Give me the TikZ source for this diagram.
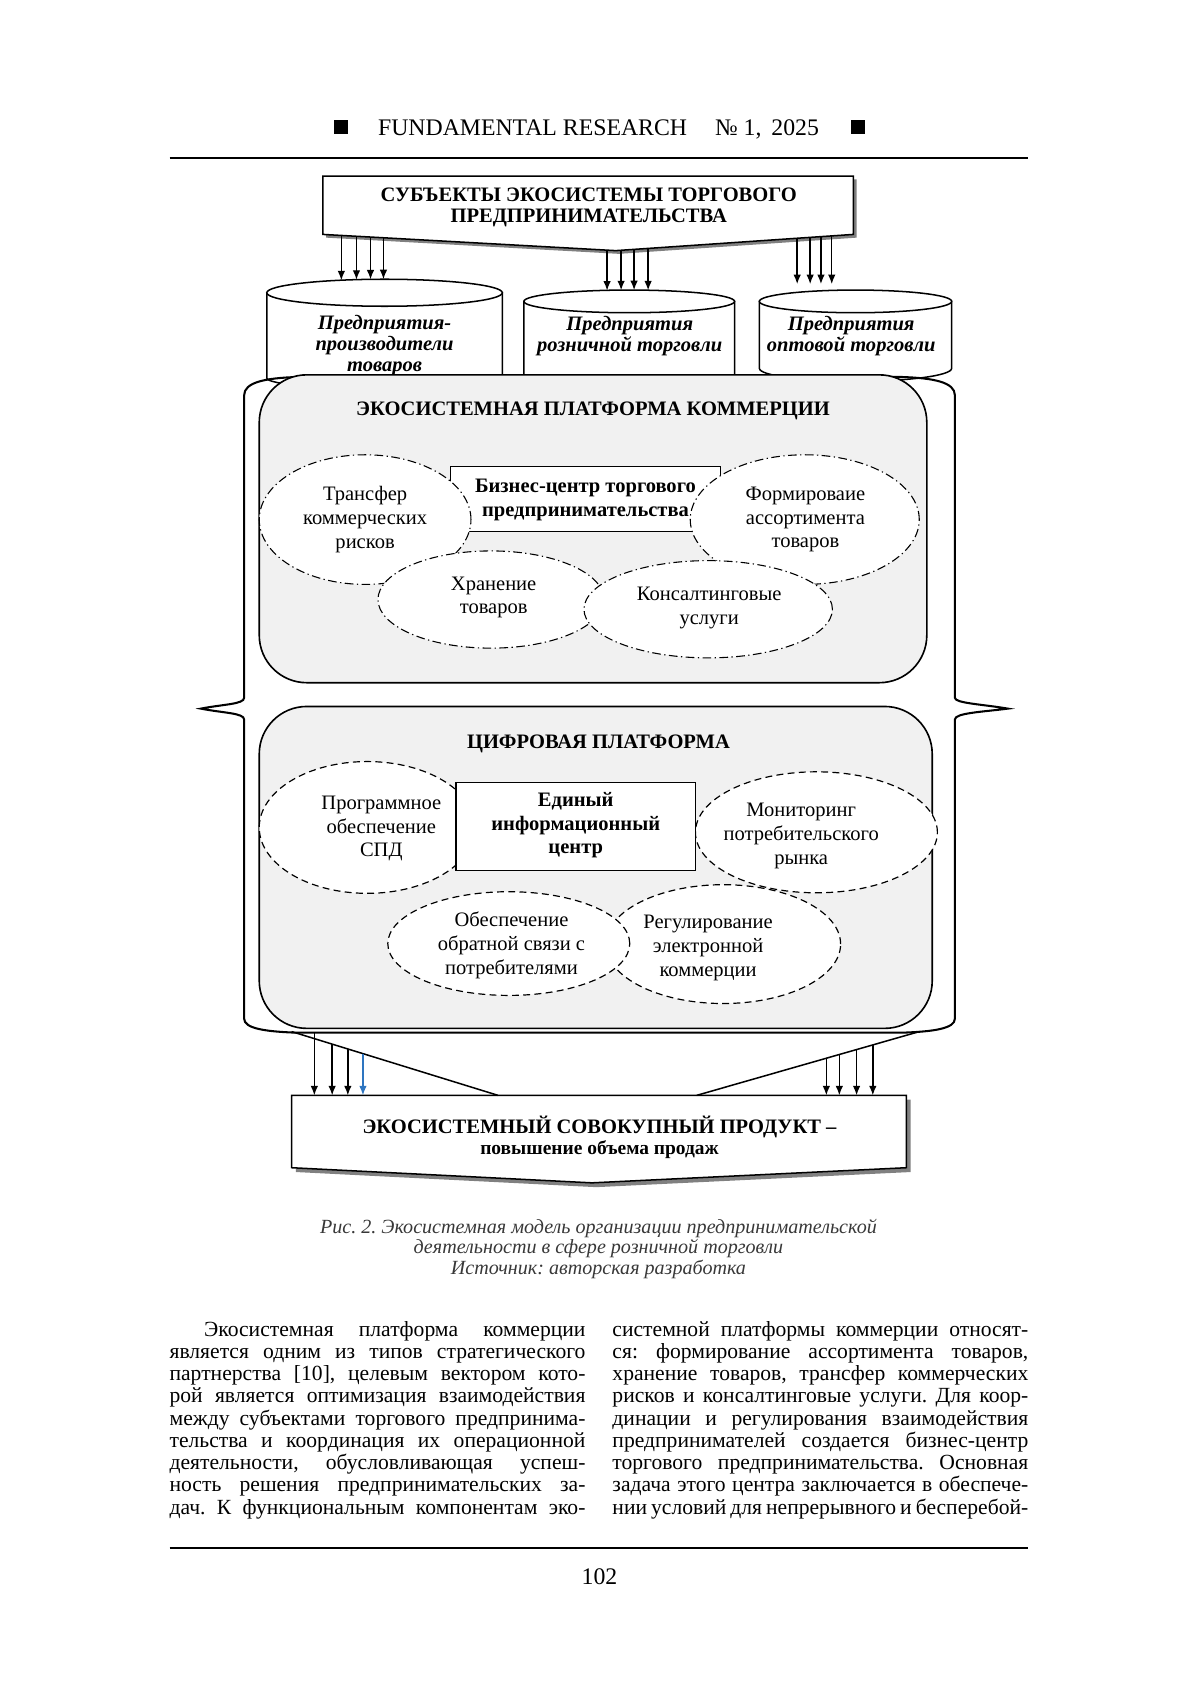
\documentclass[tikz,border=0pt]{standalone}
\usepackage{fontspec}
\setmainfont{Liberation Serif}
\usetikzlibrary{arrows.meta,shapes.geometric}
\definecolor{panelgray}{gray}{0.945}
\definecolor{captiongray}{gray}{0.22}
\definecolor{arrowblue}{RGB}{46,117,192}
\definecolor{shadowgray}{gray}{0.5}
\newcommand{\setfs}[2]{\fontsize{#1}{#2}\selectfont}
\frenchspacing
\begin{document}
\begin{tikzpicture}[x=0.5pt,y=-0.5pt,
  every node/.style={inner sep=0pt, outer sep=0pt},
  arr/.style={-{Latex[length=4.4pt,width=3.5pt]}, line width=0.65pt},
  outline/.style={draw=black, line width=0.7pt},
  framestyle/.style={draw=black, line width=0.95pt},
  panel/.style={rectangle, draw=black, line width=0.75pt, fill=panelgray, rounded corners=22pt, anchor=north west},
  dotell/.style={ellipse, draw=black, fill=white, line width=0.5pt, dash pattern=on 4pt off 1.6pt on 0.6pt off 1.6pt},
  dashell/.style={ellipse, draw=black, fill=white, line width=0.55pt, dash pattern=on 3.2pt off 2pt},
  centrebox/.style={rectangle, draw=black, fill=white, line width=0.6pt},
  eltext/.style={align=center, font=\setfs{9.5}{11}},
  boldtext/.style={align=center, font=\setfs{9.5}{11}\bfseries},
  cyltext/.style={align=center, font=\setfs{9.5}{9.6}\bfseries\itshape},
  headtext/.style={align=center, font=\setfs{9.5}{9.5}\bfseries},
  paneltitle/.style={font=\setfs{9.5}{11}\bfseries},
  bodytext/.style={anchor=base west, font=\setfs{10}{10.3}},
]
\useasboundingbox (0,0) rectangle (1111,1571);

% ---------- page header ----------
\fill[black] (309,111) rectangle (322,124);
\fill[black] (788,111) rectangle (801,124);
\node[anchor=base west, font=\setfs{11}{12}] (jname) at (350,125) {FUNDAMENTAL RESEARCH};
\node[anchor=base west, font=\setfs{11}{12}] (jnum) at (662,125) {№ 1,\, 2025};
\draw[line width=1pt] (157,146) -- (952,146);

% ---------- cylinders ----------
\path[outline, fill=white] (247,271) -- (247,350) arc[start angle=180, end angle=0, x radius=109, y radius=10] -- (465,271) -- cycle;
\draw[outline, fill=white] (356,271) ellipse [x radius=109, y radius=12.5];
\path[outline, fill=white] (485,279) -- (485,350) arc[start angle=180, end angle=0, x radius=97.5, y radius=10] -- (680,279) -- cycle;
\draw[outline, fill=white] (582.5,279) ellipse [x radius=97.5, y radius=10.5];
\path[outline, fill=white] (703,279) -- (703,341) arc[start angle=180, end angle=0, x radius=89, y radius=12] -- (881,279) -- cycle;
\draw[outline, fill=white] (792,279) ellipse [x radius=89, y radius=10.5];

\node[cyltext] (cyl1) at (356,320) {Предприятия-\\производители\\товаров};
\node[cyltext] (cyl2) at (583,311) {Предприятия\\розничной торговли};
\node[cyltext] (cyl3) at (788,311) {Предприятия\\оптовой торговли};

% ---------- top box ----------
\fill[shadowgray, shift={(3,3)}] (299,163) -- (790,163) -- (790,217) -- (570,232) -- (299,217) -- cycle;
\draw[outline, fill=white] (299,163) -- (790,163) -- (790,217) -- (570,232) -- (299,217) -- cycle;
\node[headtext] (subj) at (545,192) {СУБЪЕКТЫ ЭКОСИСТЕМЫ ТОРГОВОГО\\ПРЕДПРИНИМАТЕЛЬСТВА};

% arrows top -> cylinders
\foreach \x/\ys/\ye [count=\i] in {316/218.5/259.5, 330/219.2/259, 343/219.9/258.7, 355/220.5/258.5}{
  \coordinate (sa\i) at (\x,\ys); \coordinate (ea\i) at (\x,\ye);
  \draw[arr] (sa\i) -- (ea\i);
}
\foreach \x/\ys/\ye [count=\i] in {562/231.5/269, 575/231.6/268.7, 587/230.8/268.6, 600/230/268.8}{
  \coordinate (sb\i) at (\x,\ys); \coordinate (eb\i) at (\x,\ye);
  \draw[arr] (sb\i) -- (eb\i);
}
\foreach \x/\ys/\ye [count=\i] in {738/221/263, 750/220.2/263, 760/219.5/263, 770/218.8/263}{
  \coordinate (sc\i) at (\x,\ys); \coordinate (ec\i) at (\x,\ye);
  \draw[arr] (sc\i) -- (ec\i);
}

% ---------- outer frame (brace shape) ----------
\draw[framestyle] (275,349) .. controls (245,350) and (226,354) .. (226,366)
  -- (226,646) .. controls (226,652) and (206,652) .. (186,656)
  .. controls (206,660) and (226,660) .. (226,666)
  -- (226,943) .. controls (226,952) and (245,955) .. (275,956)
  -- (835,956) .. controls (865,955) and (884,952) .. (884,943)
  -- (884,666) .. controls (884,660) and (910,659) .. (933,656)
  .. controls (910,652) and (884,651) .. (884,646)
  -- (884,366) .. controls (884,354) and (865,350) .. (835,349) -- cycle;

% ---------- commerce platform ----------
\node[panel, minimum width=309pt, minimum height=142.5pt] (commerce) at (240,347) {};
\node[paneltitle] (commtitle) at (549,380) {ЭКОСИСТЕМНАЯ ПЛАТФОРМА КОММЕРЦИИ};
\node[centrebox, minimum width=125pt, minimum height=30pt] (bizc) at (542,462) {};
\node[dotell, minimum width=98pt, minimum height=60pt] (etransfer) at (338,481) {};
\node[dotell, minimum width=106pt, minimum height=60pt] (eassort) at (745,481) {};
\node[dotell, minimum width=104.6pt, minimum height=45pt] (estore) at (454.5,555) {};
\node[dotell, minimum width=115pt, minimum height=45pt] (econsult) at (655.6,564) {};
\node[boldtext] (bizctext) at (542,463) {Бизнес-центр торгового\\предпринимательства};
\node[eltext] (ttransfer) at (338,481) {Трансфер\\коммерческих\\рисков};
\node[eltext] (tassort) at (745.6,481) {Формироваие\\ассортимента\\товаров};
\node[eltext] (tstore) at (457,553) {Хранение\\товаров};
\node[eltext] (tconsult) at (656.5,563) {Консалтинговые\\услуги};

% ---------- digital platform ----------
\node[panel, minimum width=311.5pt, minimum height=149pt] (digital) at (240,654) {};
\node[paneltitle] (digtitle) at (554,689) {ЦИФРОВАЯ ПЛАТФОРМА};
\node[dashell, minimum width=100pt, minimum height=61pt] (eprog) at (340,766) {};
\node[dashell, minimum width=112pt, minimum height=56pt] (emon) at (755.8,770.5) {};
\node[dashell, minimum width=108.7pt, minimum height=55pt] (ereg) at (669.5,874) {};
\node[dashell, minimum width=112pt, minimum height=48pt] (efeed) at (471,873.5) {};
\node[centrebox, minimum width=110.75pt, minimum height=40.75pt] (infoc) at (533,765) {};
\node[boldtext] (infoctext) at (533,764) {Единый\\информационный\\центр};
\node[eltext] (tprog) at (353,767) {Программное\\обеспечение\\СПД};
\node[eltext] (tmon) at (741.7,774) {Мониторинг\\потребительского\\рынка};
\node[eltext] (tfeed) at (473.5,875) {Обеспечение\\обратной связи с\\потребителями};
\node[eltext] (treg) at (655.5,877.5) {Регулирование\\электронной\\коммерции};

% ---------- bottom result box ----------
\fill[shadowgray, shift={(4,4)}] (270,1014) -- (839,1014) -- (839,1081) -- (548,1095) -- (270,1081) -- cycle;
\draw[outline, fill=white] (270,1014) -- (839,1014) -- (839,1081) -- (548,1095) -- (270,1081) -- cycle;
\node[align=center, font=\setfs{9.5}{9.7}\bfseries] (result) at (555,1053) {ЭКОСИСТЕМНЫЙ СОВОКУПНЫЙ ПРОДУКТ –\\{\setfs{9}{9.7}\bfseries повышение объема продаж}};

% funnel lines
\coordinate (fl1) at (270,955); \coordinate (fl2) at (461,1014);
\coordinate (fr1) at (645,1014); \coordinate (fr2) at (851,955);
\draw[line width=0.7pt] (fl1) -- (fl2);
\draw[line width=0.7pt] (fr1) -- (fr2);

% arrows frame -> result
\foreach \x/\ys [count=\i] in {291/956, 307.5/966.5, 322/971}{
  \coordinate (sd\i) at (\x,\ys); \coordinate (ed\i) at (\x,1014);
  \draw[arr] (sd\i) -- (ed\i);
}
\coordinate (sdb) at (336,975.4); \coordinate (edb) at (336,1014);
\draw[arr, draw=arrowblue, fill=arrowblue] (sdb) -- (edb);
\foreach \x/\ys [count=\i] in {765/980, 777/976.4, 793/971.8, 808/967.4}{
  \coordinate (se\i) at (\x,\ys); \coordinate (ee\i) at (\x,1014);
  \draw[arr] (se\i) -- (ee\i);
}

% ---------- caption ----------
\node[align=center, text=captiongray, font=\setfs{9.3}{9.6}\itshape] (caption) at (554,1156)
  {Рис. 2. Экосистемная модель организации предпринимательской\\деятельности в сфере розничной торговли\\Источник: авторская разработка};

% ---------- body text ----------
\node[bodytext] (leftcol) at (157,1237) {\parbox[t]{192.5pt}{\setfs{10}{10.3}%
\hspace*{16pt}\makebox[176.5pt][s]{Экосистемная платформа коммерции}\\
\makebox[192.5pt][s]{является одним из типов стратегического}\\
\makebox[192.5pt][s]{партнерства [10], целевым вектором кото-}\\
\makebox[192.5pt][s]{рой является оптимизация взаимодействия}\\
\makebox[192.5pt][s]{между субъектами торгового предпринима-}\\
\makebox[192.5pt][s]{тельства и координация их операционной}\\
\makebox[192.5pt][s]{деятельности, обусловливающая успеш-}\\
\makebox[192.5pt][s]{ность решения предпринимательских за-}\\
\makebox[192.5pt][s]{дач. К функциональным компонентам эко-}}};
\node[bodytext] (rightcol) at (567,1237) {\parbox[t]{192.5pt}{\setfs{10}{10.3}%
\makebox[192.5pt][s]{системной платформы коммерции относят-}\\
\makebox[192.5pt][s]{ся: формирование ассортимента товаров,}\\
\makebox[192.5pt][s]{хранение товаров, трансфер коммерческих}\\
\makebox[192.5pt][s]{рисков и консалтинговые услуги. Для коор-}\\
\makebox[192.5pt][s]{динации и регулирования взаимодействия}\\
\makebox[192.5pt][s]{предпринимателей создается бизнес-центр}\\
\makebox[192.5pt][s]{торгового предпринимательства. Основная}\\
\makebox[192.5pt][s]{задача этого центра заключается в обеспече-}\\
\makebox[192.5pt][s]{нии условий для непрерывного и бесперебой-}}};

% ---------- footer ----------
\draw[line width=1pt] (157,1433) -- (952,1433);
\node[anchor=base, font=\setfs{11}{12}] (pagenum) at (555,1467) {102};
\end{tikzpicture}
\end{document}
